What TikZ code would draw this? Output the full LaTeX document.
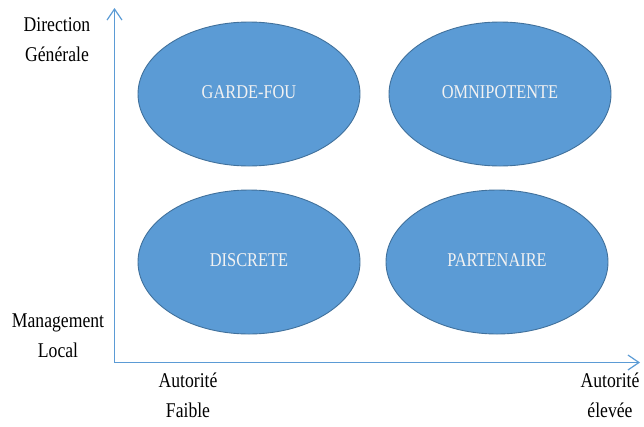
\documentclass[tikz,border=0pt]{standalone}
\usepackage{fontspec}
\setmainfont{Liberation Serif}[FakeStretch=0.84]
\usetikzlibrary{arrows.meta,shapes.geometric}
\definecolor{ellfill}{HTML}{5B9BD5}
\definecolor{elldraw}{HTML}{41719C}
\definecolor{axiscol}{HTML}{5B9BD5}
\definecolor{elltext}{HTML}{F2F2F2}
\newcommand{\qtext}[1]{\raisebox{4.5pt}{#1}}
\begin{document}
\begin{tikzpicture}[x=1pt,y=-1pt,
  quad/.style={ellipse, fill=ellfill, draw=elldraw, line width=0.9pt,
    minimum width=222pt, minimum height=144pt, inner sep=0pt,
    text=elltext, font=\fontsize{19.5}{22}\selectfont},
  axisline/.style={draw=axiscol, line width=1.4pt,
    -{Straight Barb[length=11pt,width=15pt,line width=1.2pt]}},
  lbl/.style={align=center, font=\fontsize{21}{29.5}\selectfont, inner sep=0pt, anchor=base}
]
\useasboundingbox (0,0) rectangle (644,426);
\coordinate (origin) at (114.5,362.5);
\coordinate (ytop) at (114.5,8);
\coordinate (xend) at (640,362.5);
\draw[axisline] (origin) -- (ytop);
\draw[axisline] (origin) -- (xend);

\node[quad] (gf) at (249,94) {\qtext{GARDE-FOU}};
\node[quad] (om) at (500,94) {\qtext{OMNIPOTENTE}};
\node[quad] (di) at (249,262) {\qtext{DISCRETE}};
\node[quad] (pa) at (497,262) {\qtext{PARTENAIRE}};

\node[lbl] (dg) at (57,61) {Direction\\Générale};
\node[lbl] (ml) at (58,357) {Management\\Local};
\node[lbl] (af) at (188,417) {Autorité\\Faible};
\node[lbl] (ae) at (610,417) {Autorité\\élevée};
\end{tikzpicture}
\end{document}
